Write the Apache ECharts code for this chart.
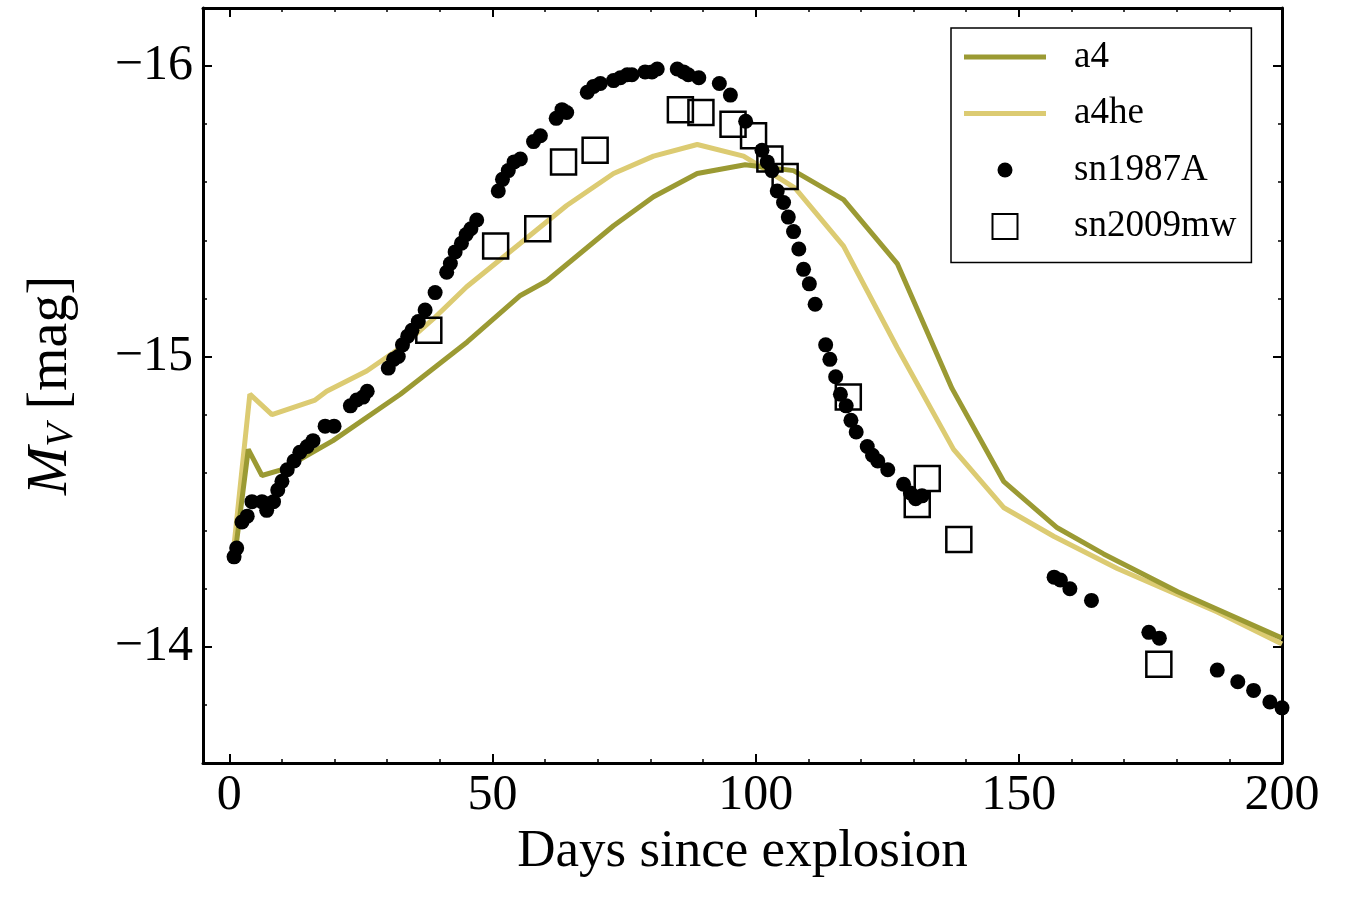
<!DOCTYPE html>
<html>
<head>
<meta charset="utf-8">
<script src="https://cdn.jsdelivr.net/npm/echarts@6/dist/echarts.min.js"></script>
<style>
  html, body { margin: 0; padding: 0; background: #fff; }
  #chart { width: 1350px; height: 900px; }
</style>
</head>
<body>
<div id="chart"></div>
<script>
// model light curves
const a4Days = [1.3, 3.6, 6.2, 10.0, 19.7, 32.5, 45.2, 55.3, 60.3, 73.0, 80.6, 88.9, 98.0, 107.2, 116.7, 126.9, 137.3, 147.1, 157.3, 166.1, 180.2, 200]
const a4Mag = [-14.35, -14.68, -14.59, -14.61, -14.71, -14.87, -15.05, -15.21, -15.26, -15.45, -15.55, -15.63, -15.66, -15.64, -15.54, -15.32, -14.89, -14.57, -14.41, -14.32, -14.19, -14.03]

const a4heDays = [0.9, 3.9, 8.1, 16.3, 18.5, 26.1, 32.5, 38.8, 45.1, 55.3, 64.1, 73.0, 80.6, 88.9, 97.7, 102.2, 107.5, 116.7, 126.9, 137.6, 147.1, 156.7, 168.7, 187.7, 200]
const a4heMag = [-14.35, -14.87, -14.80, -14.85, -14.88, -14.95, -15.03, -15.13, -15.24, -15.39, -15.52, -15.63, -15.69, -15.73, -15.69, -15.64, -15.58, -15.38, -15.03, -14.68, -14.48, -14.38, -14.27, -14.12, -14.01]

// observations
const sn1987aDays = [0.9, 1.4, 2.4, 3.4, 4.3, 6.2, 7.1, 8.4, 9.2, 10.0, 11.0, 12.3, 13.4, 14.8, 15.9, 18.2, 19.9,
  23.0, 24.2, 25.4, 26.2, 30.2, 31.2, 32.1, 32.9, 33.9, 34.7, 35.9, 37.2, 39.1, 41.3, 42.0, 42.9, 44.1, 45.0, 45.9, 47.0,
  51.1, 51.9, 53.0, 54.1, 55.3, 57.8, 59.1, 62.1, 63.2, 64.1, 68.0, 69.2, 70.5, 73.0, 74.3, 75.6, 76.5, 79.0, 80.3, 81.3,
  85.1, 86.3, 87.2, 89.2, 93.1, 95.2, 98.1, 101.2, 102.2, 103.1, 104.1, 105.3, 106.2, 107.2, 108.2, 109.1, 110.2, 111.3,
  113.3, 114.1, 115.2, 116.1, 117.2, 118.1, 119.1, 121.2, 122.2, 123.2, 125.1, 128.1, 129.4, 130.4, 131.6,
  156.7, 157.9, 159.7, 163.8, 174.7, 176.7, 187.7, 191.6, 194.6, 197.7, 200]
const sn1987aMag = [-14.31, -14.34, -14.43, -14.45, -14.50, -14.50, -14.47, -14.50, -14.54, -14.57, -14.61, -14.64, -14.67, -14.69, -14.71, -14.76, -14.76,
  -14.83, -14.85, -14.86, -14.88, -14.96, -14.99, -15.00, -15.04, -15.07, -15.09, -15.12, -15.16, -15.22, -15.29, -15.32, -15.36, -15.39, -15.42, -15.44, -15.47,
  -15.57, -15.61, -15.64, -15.67, -15.68, -15.74, -15.76, -15.82, -15.85, -15.84, -15.91, -15.93, -15.94, -15.95, -15.96, -15.97, -15.97, -15.98, -15.98, -15.99,
  -15.99, -15.98, -15.97, -15.96, -15.94, -15.90, -15.81, -15.71, -15.67, -15.64, -15.57, -15.53, -15.48, -15.43, -15.37, -15.30, -15.25, -15.18,
  -15.04, -14.99, -14.93, -14.87, -14.83, -14.78, -14.74, -14.69, -14.66, -14.64, -14.61, -14.56, -14.53, -14.51, -14.52,
  -14.24, -14.23, -14.20, -14.16, -14.05, -14.03, -13.92, -13.88, -13.85, -13.81, -13.79]

const sn2009mwDays = [37.9, 50.6, 58.6, 63.5, 69.5, 85.7, 89.6, 95.7, 99.6, 102.7, 105.6, 117.6, 130.7, 132.6, 138.6, 176.6]
const sn2009mwMag = [-15.09, -15.38, -15.44, -15.67, -15.71, -15.85, -15.84, -15.80, -15.76, -15.68, -15.62, -14.86, -14.49, -14.58, -14.37, -13.94]

// ticks
const xMajorTicks = [0, 50, 100, 150, 200]
const xMinorTicks = [0, 10, 20, 30, 40, 50, 60, 70, 80, 90, 100, 110, 120, 130, 140, 150, 160, 170, 180, 190, 200]
const yMajorTicks = [-16, -15, -14]
const yMinorTicks = [-16.2, -16.0, -15.8, -15.6, -15.4, -15.2, -15.0, -14.8, -14.6, -14.4, -14.2, -14.0, -13.8, -13.6]

const FONT = '"Liberation Serif", "DejaVu Serif", serif'
const A4_COLOR = '#9b9a33'
const A4HE_COLOR = '#dccb72'

const pairs = (xs, ys) => xs.map((x, i) => [x, ys[i]])

const chart = echarts.init(document.getElementById('chart'))

const xBase = { type: 'value', min: -5, max: 200, splitLine: { show: false } }
const yBase = { type: 'value', min: -16.2, max: -13.6, inverse: true, splitLine: { show: false } }
const frameLine = { show: true, onZero: false, lineStyle: { color: '#000', width: 3 } }
const noLine = { show: false, onZero: false }
const minorTick = (vals) => ({ show: true, inside: true, length: 4, customValues: vals, lineStyle: { color: '#000', width: 1.5 } })
const majorTick = (vals) => ({ show: true, inside: true, length: 9, customValues: vals, lineStyle: { color: '#000', width: 2 } })
const noLabel = { show: false }

chart.setOption({
  animation: false,
  backgroundColor: '#fff',
  grid: { left: 203, right: 68, top: 8, bottom: 137 },
  xAxis: [
    {
      ...xBase,
      position: 'bottom',
      axisLine: frameLine,
      axisTick: minorTick(xMinorTicks),
      axisLabel: {
        customValues: xMajorTicks,
        margin: 8,
        color: '#000',
        fontFamily: FONT,
        fontSize: 50
      },
      name: 'Days since explosion',
      nameLocation: 'middle',
      nameGap: 62,
      nameTextStyle: { color: '#000', fontFamily: FONT, fontSize: 53 }
    },
    { ...xBase, position: 'bottom', axisLine: noLine, axisTick: majorTick(xMajorTicks), axisLabel: noLabel },
    { ...xBase, position: 'top', axisLine: frameLine, axisTick: minorTick(xMinorTicks), axisLabel: noLabel },
    { ...xBase, position: 'top', axisLine: noLine, axisTick: majorTick(xMajorTicks), axisLabel: noLabel }
  ],
  yAxis: [
    {
      ...yBase,
      position: 'left',
      axisLine: frameLine,
      axisTick: minorTick(yMinorTicks),
      axisLabel: {
        customValues: yMajorTicks,
        margin: 10,
        color: '#000',
        fontFamily: FONT,
        fontSize: 50,
        formatter: (v) => '\u2212' + Math.abs(v)
      },
      name: '{i|M}{sub|V}{n| [mag]}',
      nameLocation: 'middle',
      nameRotate: 90,
      nameGap: 122,
      nameTextStyle: {
        color: '#000',
        fontFamily: FONT,
        fontSize: 56,
        rich: {
          i: { fontFamily: FONT, fontSize: 58, fontStyle: 'italic', color: '#000', lineHeight: 60 },
          sub: { fontFamily: FONT, fontSize: 38, fontStyle: 'italic', color: '#000', verticalAlign: 'bottom', lineHeight: 42 },
          n: { fontFamily: FONT, fontSize: 56, color: '#000', lineHeight: 60 }
        }
      }
    },
    { ...yBase, position: 'left', axisLine: noLine, axisTick: majorTick(yMajorTicks), axisLabel: noLabel },
    { ...yBase, position: 'right', axisLine: frameLine, axisTick: minorTick(yMinorTicks), axisLabel: noLabel },
    { ...yBase, position: 'right', axisLine: noLine, axisTick: majorTick(yMajorTicks), axisLabel: noLabel }
  ],
  legend: {
    orient: 'vertical',
    left: 951,
    top: 28,
    padding: [10, 15, 17, 12],
    backgroundColor: '#fff',
    borderColor: '#000',
    borderWidth: 1.5,
    borderRadius: 0,
    itemWidth: 105,
    itemHeight: 26,
    itemGap: 18.5,
    selectedMode: false,
    textStyle: { color: '#000', fontFamily: FONT, fontSize: 37, lineHeight: 38 },
    data: [
      { name: 'a4', icon: 'path://M0,0M105,26M0,10.5H82V15.5H0Z', itemStyle: { borderWidth: 0 } },
      { name: 'a4he', icon: 'path://M0,0M105,26M0,10.5H82V15.5H0Z', itemStyle: { borderWidth: 0 } },
      { name: 'sn1987A', icon: 'path://M0,0M105,26M33.5,13A7.5,7.5,0,1,0,48.5,13A7.5,7.5,0,1,0,33.5,13Z', itemStyle: { borderWidth: 0 } },
      { name: 'sn2009mw', icon: 'path://M0,0M105,26M28.5,0.5H53.5V25.5H28.5Z' }
    ]
  },
  series: [
    {
      name: 'a4',
      type: 'line',
      data: pairs(a4Days, a4Mag),
      showSymbol: false,
      symbol: 'none',
      color: A4_COLOR,
      lineStyle: { color: A4_COLOR, width: 5 },
      z: 2
    },
    {
      name: 'a4he',
      type: 'line',
      data: pairs(a4heDays, a4heMag),
      showSymbol: false,
      symbol: 'none',
      color: A4HE_COLOR,
      lineStyle: { color: A4HE_COLOR, width: 5 },
      z: 1
    },
    {
      name: 'sn1987A',
      type: 'scatter',
      data: pairs(sn1987aDays, sn1987aMag),
      symbol: 'circle',
      symbolSize: 15,
      itemStyle: { color: '#000', opacity: 1 },
      z: 4
    },
    {
      name: 'sn2009mw',
      type: 'scatter',
      data: pairs(sn2009mwDays, sn2009mwMag),
      symbol: 'rect',
      symbolSize: 25,
      itemStyle: { color: 'rgba(0,0,0,0)', borderColor: '#000', borderWidth: 2.5, opacity: 1 },
      z: 3
    }
  ]
})
</script>
</body>
</html>
